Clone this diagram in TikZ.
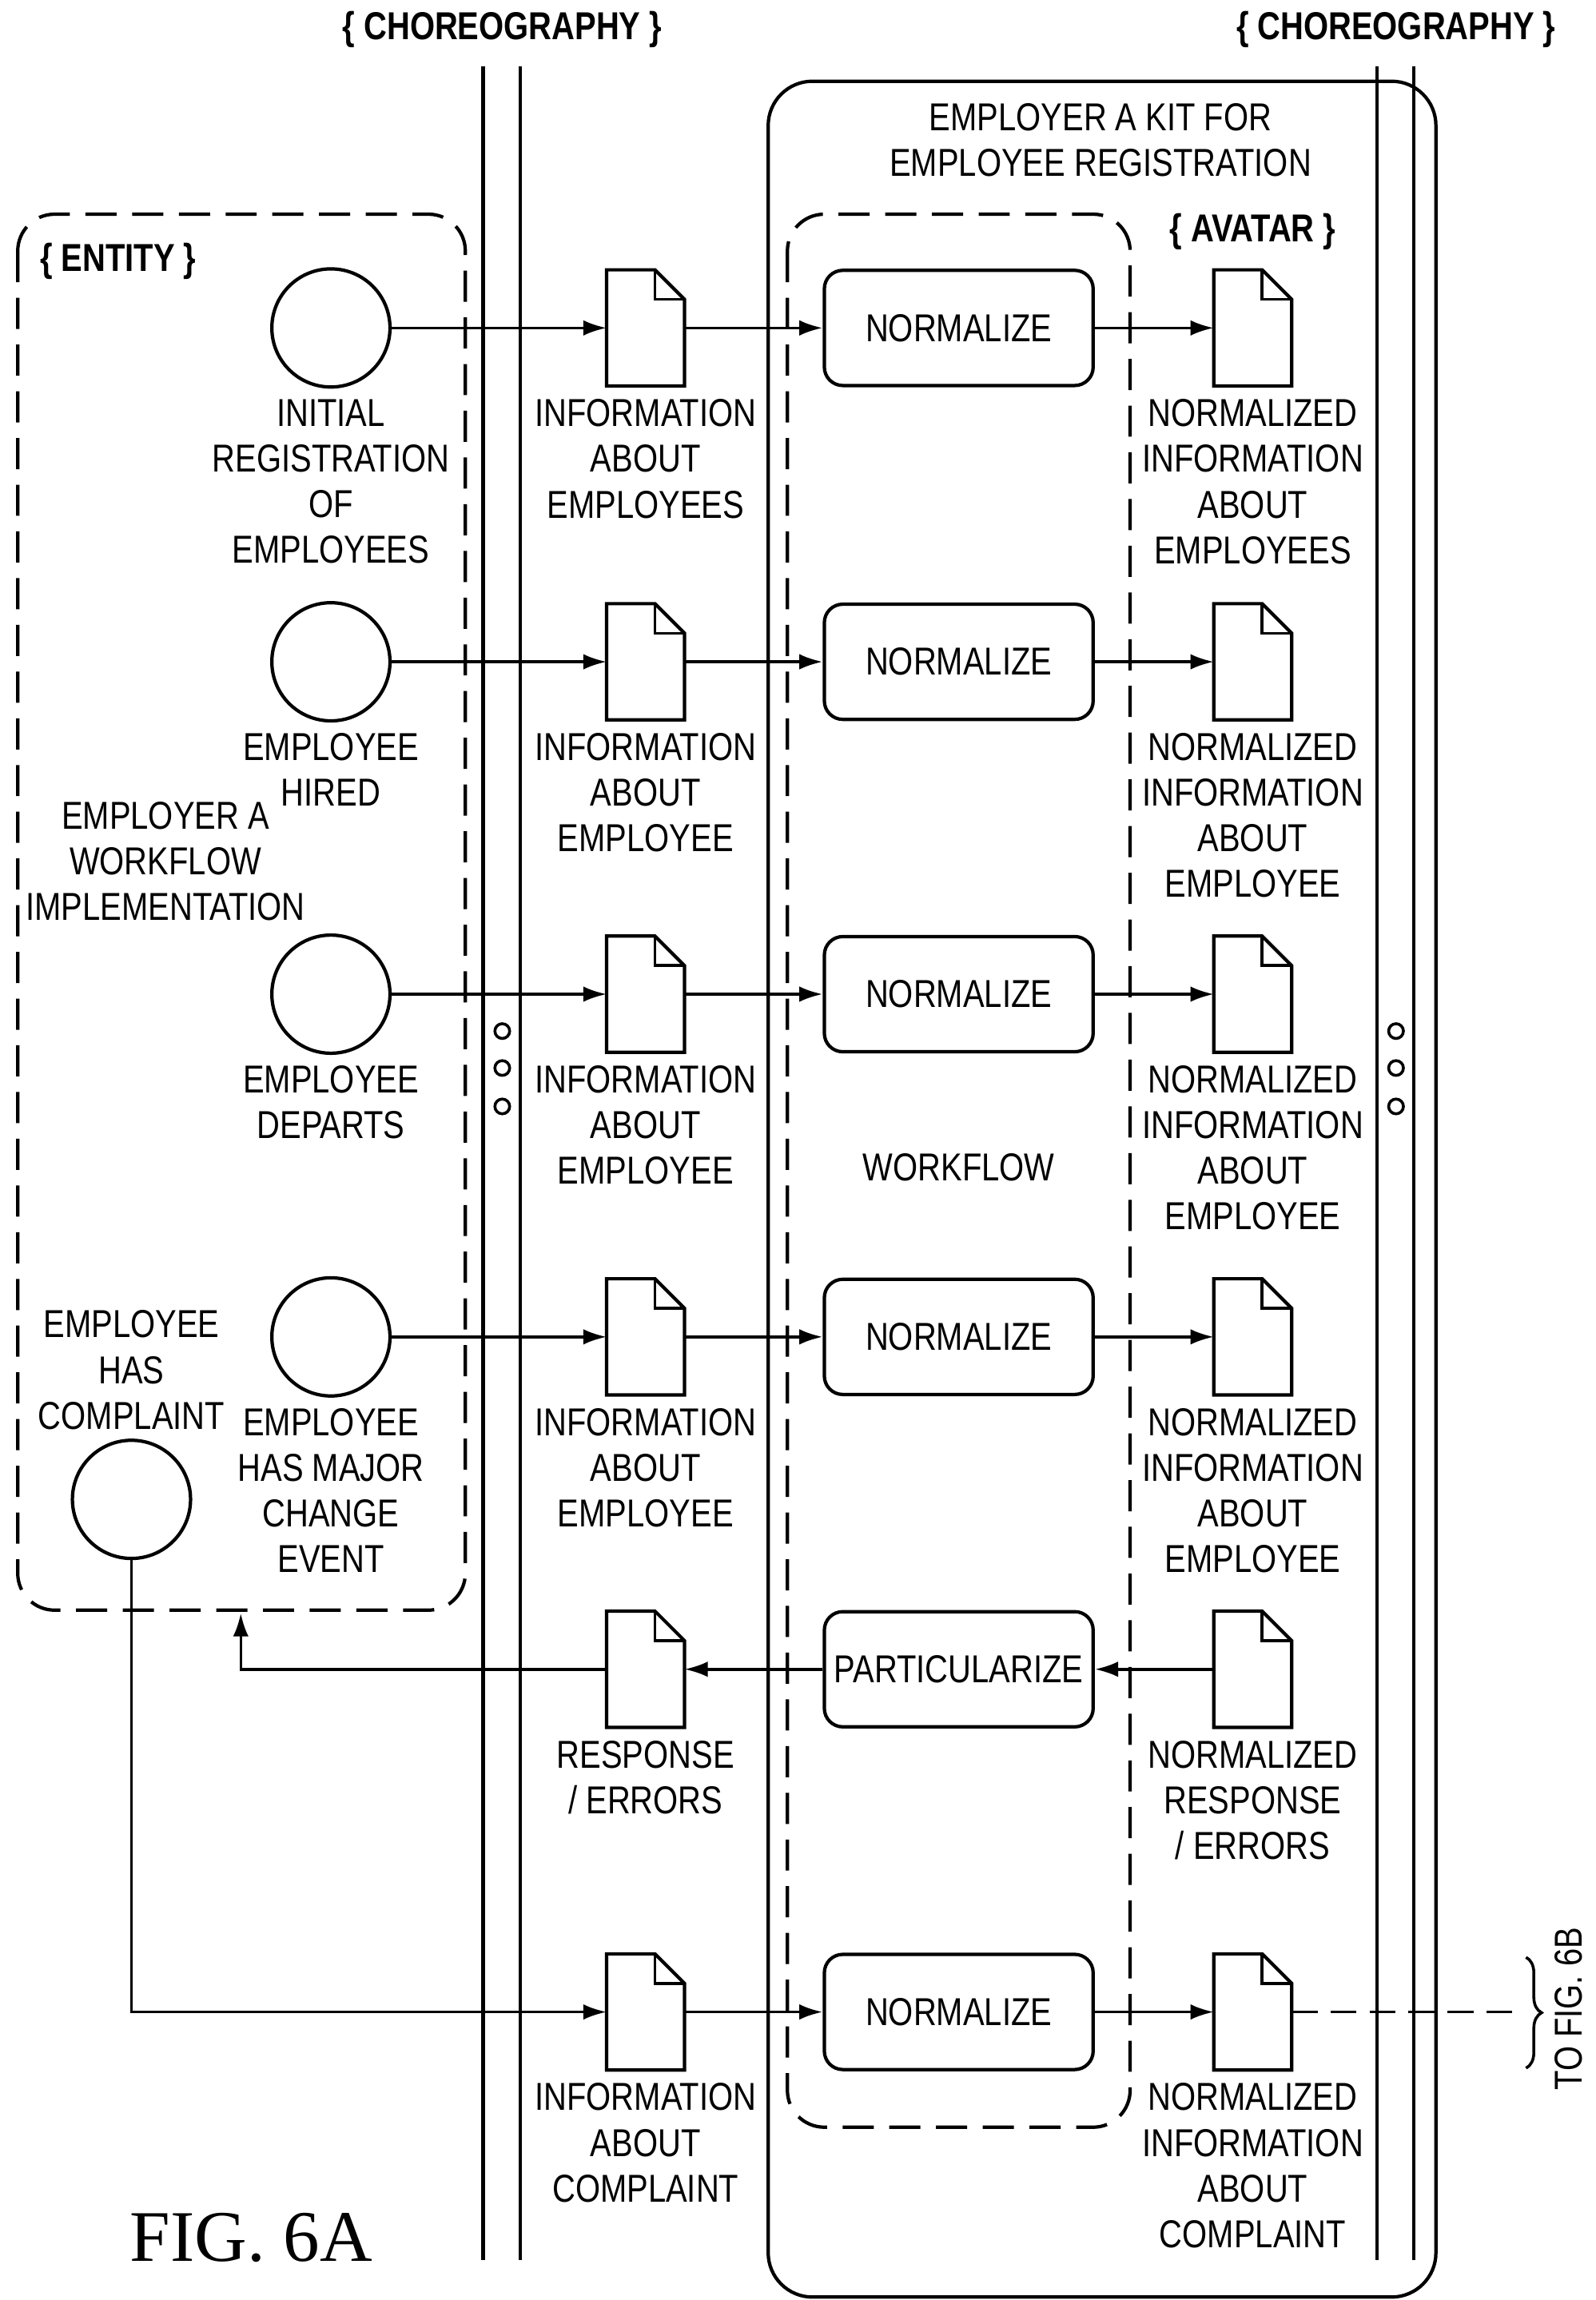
\documentclass[tikz,border=0pt]{standalone}
\usepackage{fontspec}
\setmainfont{Liberation Sans}[FakeStretch=0.82]
\usetikzlibrary{positioning,arrows.meta,calc,decorations.pathreplacing}
\tikzset{
  lbl/.style={align=center,font=\fontsize{15}{17.6}\selectfont,inner sep=0pt},
  event/.style={circle,draw,line width=1.3pt,minimum size=1.6cm,inner sep=0pt},
  doc/.style={minimum width=1.04cm,minimum height=1.56cm,inner sep=0pt},
  action/.style={draw,line width=1.3pt,rounded corners=0.25cm,minimum width=3.64cm,minimum height=1.56cm,font=\fontsize{15}{17.6}\selectfont},
  flow/.style={-{Latex[length=9pt,width=6pt]},line width=1.1pt},
  hdr/.style={font=\bfseries\fontsize{15}{17.6}\selectfont}
}
\newcommand{\docoutline}[1]{%
  \draw[line width=1.3pt] (#1.south west) -- (#1.north west) -- ($(#1.north east)+(-20,0)$)
    -- ($(#1.north east)+(0,20)$) -- (#1.south east) -- cycle;
  \draw[line width=1.1pt] ($(#1.north east)+(-20,0)$) |- ($(#1.north east)+(0,20)$);}
\begin{document}
\begin{tikzpicture}[x=0.02cm,y=-0.02cm]
\useasboundingbox (0,0) rectangle (1080,1557);
% choreography lanes
\draw[line width=1.3pt] (327,45) -- (327,1530) (352,45) -- (352,1530);
\draw[line width=1.3pt] (932,45) -- (932,1530) (957,45) -- (957,1530);
\node[hdr] (chorL) at (340,20) {\{ CHOREOGRAPHY \}};
\node[hdr] (chorR) at (945,20) {\{ CHOREOGRAPHY \}};
\foreach \y in {698,723,749} {
  \draw[line width=1.1pt] (340,\y) circle (5);
  \draw[line width=1.1pt] (945,\y) circle (5);
}
% kit
\draw[line width=1.3pt,rounded corners=0.6cm] (520,55) rectangle (972,1555);
\node[lbl] (kit) at (745,95) {EMPLOYER A KIT FOR\\EMPLOYEE REGISTRATION};
\draw[line width=1.3pt,dash pattern=on 12pt off 6pt,rounded corners=0.5cm] (533,145) rectangle (765,1440);
\node[hdr] (avatar) at (848,157) {\{ AVATAR \}};
\node[lbl] (wf) at (649,790) {WORKFLOW};
% entity
\draw[line width=1.3pt,dash pattern=on 12pt off 6pt,rounded corners=0.5cm] (12,145) rectangle (315,1090);
\node[hdr] (entity) at (80,177) {\{ ENTITY \}};
\node[lbl] (impl) at (112,583) {EMPLOYER A\\WORKFLOW\\IMPLEMENTATION};
% rows
\foreach \n/\y/\ev/\di/\ndi in {1/222/{INITIAL\\REGISTRATION\\OF\\EMPLOYEES}/{INFORMATION\\ABOUT\\EMPLOYEES}/{NORMALIZED\\INFORMATION\\ABOUT\\EMPLOYEES},
  2/448/{EMPLOYEE\\HIRED}/{INFORMATION\\ABOUT\\EMPLOYEE}/{NORMALIZED\\INFORMATION\\ABOUT\\EMPLOYEE},
  3/673/{EMPLOYEE\\DEPARTS}/{INFORMATION\\ABOUT\\EMPLOYEE}/{NORMALIZED\\INFORMATION\\ABOUT\\EMPLOYEE},
  4/905/{EMPLOYEE\\HAS MAJOR\\CHANGE\\EVENT}/{INFORMATION\\ABOUT\\EMPLOYEE}/{NORMALIZED\\INFORMATION\\ABOUT\\EMPLOYEE}} {
  \node[event] (ev\n) at (224,\y) {};
  \node[lbl,anchor=north] (evl\n) at (224,\y+48) {\ev};
  \node[doc] (in\n) at (437,\y) {};
  \docoutline{in\n}
  \node[lbl,anchor=north] (inl\n) at (437,\y+48) {\di};
  \node[action] (norm\n) at (649,\y) {NORMALIZE};
  \node[doc] (out\n) at (848,\y) {};
  \docoutline{out\n}
  \node[lbl,anchor=north] (outl\n) at (848,\y+48) {\ndi};
  \draw[flow] (ev\n) -- (in\n);
  \draw[flow] (in\n) -- (norm\n);
  \draw[flow] (norm\n) -- (out\n);
}
% response row
\node[doc] (resp) at (437,1130) {};
\docoutline{resp}
\node[lbl,anchor=north] (respl) at (437,1178) {RESPONSE\\/ ERRORS};
\node[action] (part) at (649,1130) {PARTICULARIZE};
\node[doc] (nresp) at (848,1130) {};
\docoutline{nresp}
\node[lbl,anchor=north] (nrespl) at (848,1178) {NORMALIZED\\RESPONSE\\/ ERRORS};
\coordinate (entbot) at (163,1092);
\draw[flow] (nresp) -- (part);
\draw[flow] (part) -- (resp);
\draw[flow] (resp.west) -| (entbot);
% complaint row
\node[event] (cmp) at (89,1015) {};
\node[lbl,anchor=south] (cmpl) at (89,968) {EMPLOYEE\\HAS\\COMPLAINT};
\node[doc] (cin) at (437,1362) {};
\docoutline{cin}
\node[lbl,anchor=north] (cinl) at (437,1410) {INFORMATION\\ABOUT\\COMPLAINT};
\node[action] (cnorm) at (649,1362) {NORMALIZE};
\node[doc] (cout) at (848,1362) {};
\docoutline{cout}
\node[lbl,anchor=north] (coutl) at (848,1410) {NORMALIZED\\INFORMATION\\ABOUT\\COMPLAINT};
\draw[flow] (cmp.south) |- (cin.west);
\draw[flow] (cin) -- (cnorm);
\draw[flow] (cnorm) -- (cout);
\coordinate (brc) at (1028,1362);
\draw[line width=1.1pt,dash pattern=on 10pt off 5pt] (cout.east) -- (brc);
\draw[line width=1.1pt,decorate,decoration={brace,amplitude=6pt}] (1033,1325) -- (1033,1400);
\node[lbl,rotate=90] (tofig) at (1062,1360) {TO FIG. 6B};
\node[font=\fontspec{Liberation Serif}\fontsize{28}{30}\selectfont] (fig) at (170,1515) {FIG. 6A};
\end{tikzpicture}
\end{document}
